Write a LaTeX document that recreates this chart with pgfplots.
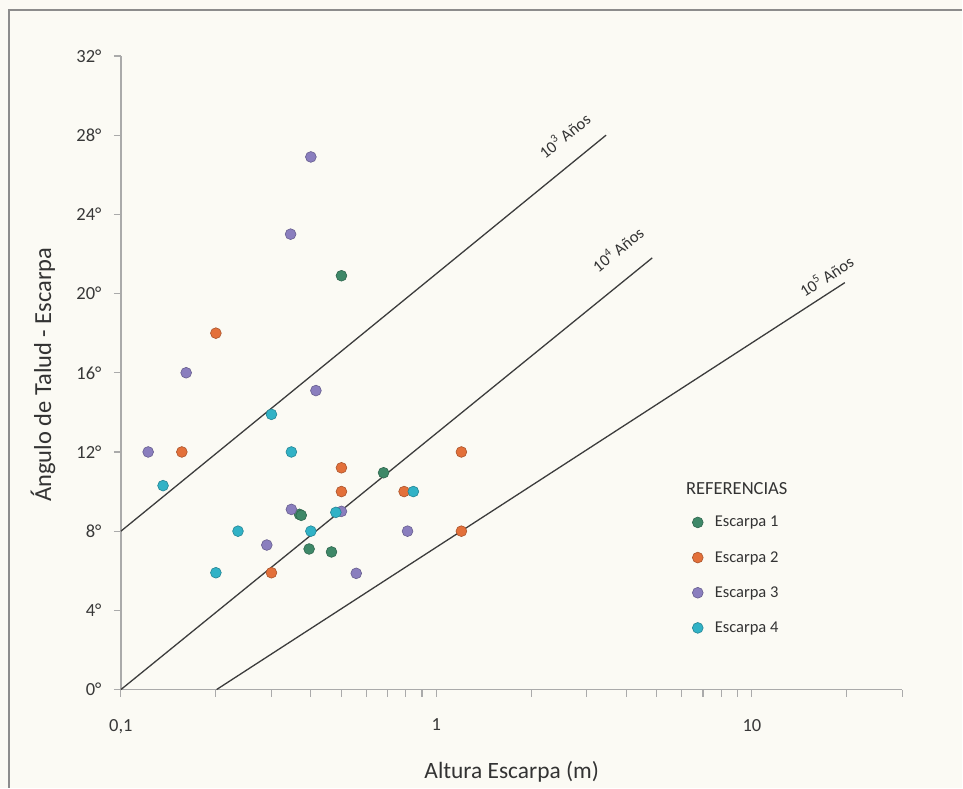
\documentclass[border=0pt]{standalone}
\usepackage{pgfplots}
\pgfplotsset{compat=1.18}
\usepackage{fontspec}
\setmainfont{Carlito}
\definecolor{bg}{RGB}{251,250,244}
\definecolor{axgray}{RGB}{170,170,170}
\definecolor{frame}{RGB}{140,140,140}
\definecolor{cA}{RGB}{62,136,104}
\definecolor{cB}{RGB}{227,112,58}
\definecolor{cC}{RGB}{138,126,190}
\definecolor{cD}{RGB}{49,178,198}
\definecolor{lineC}{RGB}{60,60,60}
\begin{document}
\begin{tikzpicture}[x=1pt,y=1pt]
\fill[bg] (0,0) rectangle (963,788);
\draw[frame, line width=1.2pt] (9,0) -- (9,778) -- (963,778);
\begin{axis}[
  at={(121pt,98pt)}, anchor=south west,
  scale only axis, width=782pt, height=634pt,
  xmode=log, xmin=0.1, xmax=30, ymin=0, ymax=32,
  axis lines=left,
  axis line style={-, draw=axgray, line width=1.4pt},
  tick align=outside,
  major tick length=7pt, minor tick length=7pt,
  tick style={draw=axgray, line width=1.1pt},
  xtick={0.1,1,10}, xticklabels={{0,1},1,10},
  minor xtick={0.2,0.3,0.4,0.5,0.6,0.7,0.8,0.9,2,3,4,5,6,7,8,9,20,30},
  ytick={0,4,8,12,16,20,24,28,32},
  yticklabels={0°,4°,8°,12°,16°,20°,24°,28°,32°},
  ticklabel style={font=\fontsize{18.5}{21}\selectfont, text=black!78},
  xticklabel style={yshift=-19pt},
  yticklabel style={xshift=-9pt},
  xlabel={Altura Escarpa (m)},
  ylabel={Ángulo de Talud - Escarpa},
  xlabel style={font=\fontsize{23.4}{27}\selectfont, text=black!80,
    at={(axis description cs:0.5,0)}, anchor=center, yshift=-82pt},
  ylabel style={font=\fontsize{24.5}{28}\selectfont, text=black!80,
    at={([xshift=-78pt]axis description cs:0,0.497)}, anchor=center},
  clip=false,
  legend image code/.code={%
    \draw[#1] plot coordinates {(6pt,0pt)};
    \path[draw=none, fill=none] (0pt,0pt) -- (21pt,0pt);},
  legend style={draw=none, fill=none, at={(axis description cs:0.7302,0.2768)}, anchor=north west,
    font=\fontsize{16.5}{19}\selectfont, text=black!80, row sep=19pt, inner sep=0pt,
    nodes={inner sep=2pt}},
  legend cell align=left,
]
\addplot[no marks, line width=1.3pt, lineC, forget plot] coordinates {(0.1,8) (3.45,28)};
\addplot[no marks, line width=1.3pt, lineC, forget plot] coordinates {(0.1,0) (4.83,21.8)};
\addplot[no marks, line width=1.3pt, lineC, forget plot] coordinates {(0.201,0) (19.7,20.55)};

\addplot[only marks, mark=*, mark size=5.4pt, mark options={draw=cA!75!black, fill=cA, line width=0.6pt}]
 coordinates {(0.5,20.9) (0.68,10.95) (0.368,8.85) (0.373,8.8) (0.395,7.1) (0.465,6.95)};
\addlegendentry{Escarpa 1}
\addplot[only marks, mark=*, mark size=5.4pt, mark options={draw=cB!75!black, fill=cB, line width=0.6pt}]
 coordinates {(0.2,18) (0.156,12) (0.5,11.2) (0.5,10) (0.79,10) (1.2,12) (1.2,8) (0.3,5.9)};
\addlegendentry{Escarpa 2}
\addplot[only marks, mark=*, mark size=5.4pt, mark options={draw=cC!75!black, fill=cC, line width=0.6pt}]
 coordinates {(0.4,26.9) (0.345,23) (0.161,16) (0.415,15.1) (0.122,12) (0.347,9.1) (0.5,9.0) (0.81,8) (0.29,7.3) (0.557,5.87)};
\addlegendentry{Escarpa 3}
\addplot[only marks, mark=*, mark size=5.4pt, mark options={draw=cD!75!black, fill=cD, line width=0.6pt}]
 coordinates {(0.3,13.9) (0.136,10.3) (0.347,12) (0.845,10) (0.48,8.95) (0.40,8) (0.235,8) (0.2,5.9)};
\addlegendentry{Escarpa 4}

\node[anchor=west, font=\fontsize{18.5}{22}\selectfont, text=black!80] at (axis description cs:0.7187,0.317) {REFERENCIAS};
\node[rotate=39, font=\fontsize{16.5}{19}\selectfont, text=black!80] at (axis cs:2.54,28.0) {10\textsuperscript{3} Años};
\node[rotate=39, font=\fontsize{16.5}{19}\selectfont, text=black!80] at (axis cs:3.75,22.25) {10\textsuperscript{4} Años};
\node[rotate=33, font=\fontsize{16.5}{19}\selectfont, text=black!80] at (axis cs:17.2,20.9) {10\textsuperscript{5} Años};
\end{axis}
\end{tikzpicture}
\end{document}
